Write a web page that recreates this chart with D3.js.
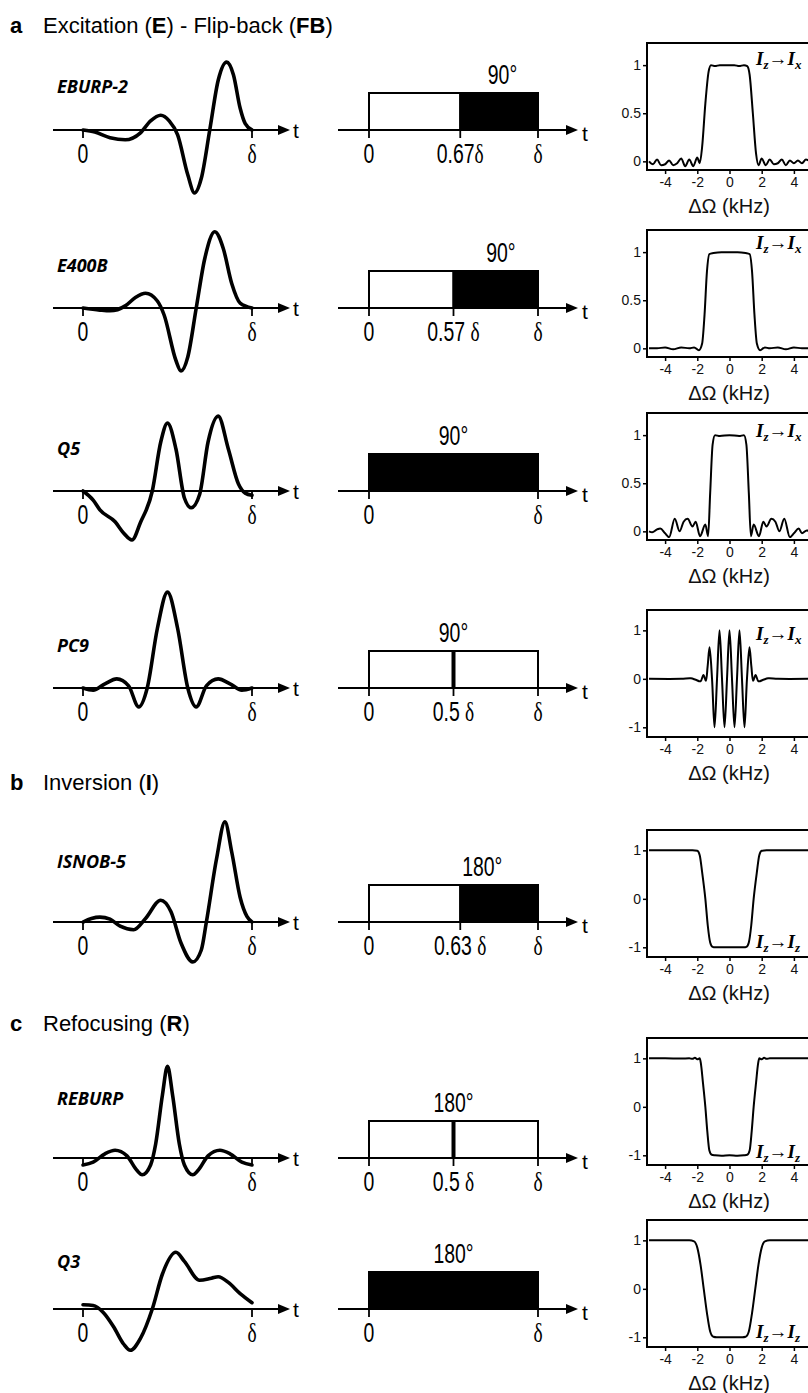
<!DOCTYPE html>
<html>
<head>
<meta charset="utf-8">
<title>Selective pulses</title>
<script src="https://d3js.org/d3.v7.min.js"></script>
<style>
    body { margin: 0; background: #fff; }
    svg { display: block; }
    .head { font-family: "Liberation Sans", Arial, sans-serif; font-size: 22px; }
    .pname { font-family: "Open Sans", sans-serif; font-style: italic; font-weight: 700; font-size: 18px; }
    .narrow { font-family: "Liberation Sans", Arial, sans-serif; font-size: 27px; }
    .delta { font-family: "Liberation Serif", "DejaVu Serif", serif; }
    .prof text { font-family: "Liberation Sans", Arial, sans-serif; font-size: 14px; fill: #111; }
    .prof text.note { font-family: "Liberation Serif", serif; font-style: italic; font-weight: bold; font-size: 19px; fill: #000; }
</style>
</head>
<body>
<script>
// ---- data ----
var names = ["EBURP-2", "E400B", "Q5", "PC9", "ISNOB-5", "REBURP", "Q3"];
var flipAngles = ["90°", "90°", "90°", "90°", "180°", "180°", "180°"];
var blockKind = ["split", "split", "full", "line", "split", "line", "full"];
var splitLabels = ["0.67δ", "0.57 δ", null, "0.5 δ", "0.63 δ", "0.5 δ", null];
var splitDrawn = [0.54, 0.5, null, 0.5, 0.54, 0.5, null];   // where the sketch puts the boundary
var transfer = [["z", "x"], ["z", "x"], ["z", "x"], ["z", "x"], ["z", "z"], ["z", "z"], ["z", "z"]];
var profTicks = [[0, 0.5, 1], [0, 0.5, 1], [0, 0.5, 1], [-1, 0, 1], [-1, 0, 1], [-1, 0, 1], [-1, 0, 1]];
var freqTicks = [-4, -2, 0, 2, 4];

var headLetters = ["a", "b", "c"];
var headParts = [
    [["Excitation (", 0], ["E", 1], [") - Flip-back (", 0], ["FB", 1], [")", 0]],
    [["Inversion (", 0], ["I", 1], [")", 0]],
    [["Refocusing (", 0], ["R", 1], [")", 0]]
];

// pulse shapes: [t/δ, amplitude]
var eburp2Shape = [[0,0],[.07,-.03],[.16,-.11],[.25,-.14],[.34,-.04],[.4,.13],[.46,.21],[.51,.13],[.56,-.07],[.62,-.64],[.66,-.9],[.7,-.69],[.75,0],[.8,.71],[.85,.97],[.89,.79],[.93,.31],[.96,.09],[1,0]];
var e400bShape = [[0,0],[.1,-.03],[.16,-.04],[.25,.03],[.31,.15],[.37,.21],[.44,.1],[.48,-.1],[.55,-.75],[.58,-.9],[.62,-.7],[.67,0],[.72,.7],[.78,1.09],[.83,.85],[.88,.35],[.93,.07],[1,0]];
var q5Shape = [[0,0],[.06,-.13],[.1,-.27],[.19,-.44],[.24,-.6],[.29,-.7],[.34,-.45],[.41,0],[.46,.7],[.5,.97],[.55,.6],[.6,-.1],[.64,-.24],[.69,-.05],[.74,.7],[.8,1.07],[.86,.6],[.92,.1],[.96,-.03],[1,-.06]];
var pc9Shape = [[0,0],[.06,-.03],[.13,.06],[.2,.13],[.27,.03],[.33,-.27],[.38,0],[.44,.85],[.5,1.37],[.56,.85],[.62,0],[.67,-.27],[.73,.03],[.8,.13],[.87,.06],[.94,-.03],[1,0]];
var isnob5Shape = [[0,0],[.05,.05],[.1,.07],[.16,.04],[.22,-.06],[.3,-.11],[.37,.05],[.46,.31],[.52,.15],[.58,-.3],[.65,-.57],[.7,-.4],[.73,0],[.79,.9],[.84,1.43],[.88,1.0],[.93,.35],[.97,.08],[1,0]];
var reburpShape = [[0,-.1],[.06,-.06],[.13,.06],[.19,.11],[.26,.03],[.32,-.18],[.35,-.24],[.4,-.1],[.43,.2],[.47,.9],[.5,1.31],[.53,.9],[.57,.2],[.6,-.1],[.65,-.24],[.68,-.18],[.74,.03],[.81,.11],[.87,.06],[.94,-.06],[1,-.1]];
var q3Shape = [[0,.06],[.06,.05],[.12,-.05],[.18,-.25],[.24,-.5],[.28,-.59],[.34,-.42],[.41,0],[.47,.5],[.55,.81],[.6,.68],[.69,.41],[.76,.44],[.8,.46],[.86,.38],[.93,.22],[1,.09]];

// excitation / inversion profiles: [ΔΩ kHz, value]
var eburp2Profile = [[-5,0],[-4.75,-.03],[-4.5,.02],[-4.25,-.04],[-4,-.03],[-3.75,.01],[-3.5,-.04],[-3.25,-.02],[-3,.03],[-2.75,-.05],[-2.5,.02],[-2.25,-.05],[-2,.04],[-1.85,-.02],[-1.7,.15],[-1.5,.6],[-1.3,.93],[-1.15,1],[-.9,.99],[-.6,1],[-.3,1],[0,1],[.3,1],[.6,.99],[.9,1],[1.1,.99],[1.25,.9],[1.45,.5],[1.65,.08],[1.8,-.04],[2,.03],[2.25,-.04],[2.5,.02],[2.75,-.03],[3,-.02],[3.25,.02],[3.5,-.04],[3.75,.01],[4,-.02],[4.25,.01],[4.5,-.02],[4.75,.02],[5,0]];
var e400bProfile = [[-5,0],[-4.5,0],[-4,.01],[-3.5,-.01],[-3,.01],[-2.5,0],[-2.2,.01],[-1.9,-.02],[-1.7,.05],[-1.55,.35],[-1.4,.8],[-1.25,.98],[-1,.99],[-.5,1],[0,1],[.5,1],[1,.99],[1.25,.98],[1.4,.8],[1.55,.35],[1.7,.05],[1.9,-.02],[2.2,.01],[2.5,0],[3,.01],[3.5,-.01],[4,.01],[4.5,0],[5,0]];
var q5Profile = [[-5,0],[-4.8,-.01],[-4.5,.02],[-4.3,.03],[-4,-.02],[-3.75,-.06],[-3.4,.13],[-3.1,0],[-2.85,.1],[-2.6,.13],[-2.3,.05],[-2.1,.1],[-1.83,-.05],[-1.5,.07],[-1.33,-.05],[-1.2,.4],[-1.05,.9],[-.9,1],[-.6,.99],[0,1],[.6,.99],[.9,1],[1.05,.9],[1.2,.4],[1.33,-.05],[1.5,.07],[1.83,-.05],[2.1,.1],[2.3,.05],[2.6,.13],[2.85,.1],[3.1,0],[3.4,.13],[3.75,-.06],[4,-.02],[4.3,.03],[4.5,-.02],[4.8,.01],[5,0]];
var pc9Profile = [[-5,0],[-3,0],[-2.4,.01],[-2.1,-.02],[-1.8,-.05],[-1.62,.08],[-1.47,-.04],[-1.36,.25],[-1.24,.65],[-1.085,0],[-.93,-1],[-.775,0],[-.62,1],[-.465,0],[-.31,-1],[-.155,0],[0,1],[.155,0],[.31,-1],[.465,0],[.62,1],[.775,0],[.93,-1],[1.085,0],[1.24,.65],[1.36,.25],[1.47,-.04],[1.62,.08],[1.8,-.05],[2.1,-.02],[2.4,.01],[3,0],[5,0]];
var isnob5Profile = [[-5,1],[-2.3,1],[-2,.99],[-1.85,.9],[-1.7,.55],[-1.5,0],[-1.35,-.55],[-1.2,-.9],[-1.05,-.99],[-.9,-1],[0,-1],[.9,-1],[1.05,-.99],[1.2,-.9],[1.35,-.55],[1.5,0],[1.7,.55],[1.85,.9],[2,.99],[2.3,1],[5,1]];
var reburpProfile = [[-5,1],[-4,1],[-3,.995],[-2.5,1],[-2.3,.99],[-2.15,1.01],[-2,.98],[-1.85,1],[-1.78,.9],[-1.65,.5],[-1.5,0],[-1.38,-.5],[-1.25,-.9],[-1.1,-.99],[-.9,-1],[-.5,-1.01],[0,-1],[.5,-1.01],[.9,-1],[1.1,-.99],[1.25,-.9],[1.38,-.5],[1.5,0],[1.65,.5],[1.78,.9],[1.85,1],[2,.98],[2.15,1.01],[2.3,.99],[2.5,1],[3,1],[4,1],[5,1]];
var q3Profile = [[-5,1],[-2.5,1],[-2.2,.98],[-2,.85],[-1.8,.5],[-1.6,0],[-1.4,-.5],[-1.2,-.88],[-1,-.99],[-.8,-1],[0,-1],[.8,-1],[1,-.99],[1.2,-.88],[1.4,-.5],[1.6,0],[1.8,.5],[2,.85],[2.2,.98],[2.5,1],[5,1]];

var shapes = [eburp2Shape, e400bShape, q5Shape, pc9Shape, isnob5Shape, reburpShape, q3Shape];
var profiles = [eburp2Profile, e400bProfile, q5Profile, pc9Profile, isnob5Profile, reburpProfile, q3Profile];

// ---- layout ----
var width = 808, height = 1393;
var rowAxisY = [130, 308, 491, 688, 922, 1158, 1309];
var nameY = [93, 272, 455, 652, 868, 1105, 1268];
var profTop = [43, 230, 413, 610, 830, 1038, 1220];
var headY = [33, 790, 1031];
var angleAt = [0.79, 0.78, 0.5, 0.5, 0.67, 0.5, 0.5];
var noteAt = [1.0, 1.03, 0.98, 0.8, -1.02, -1.06, -1.02];
var profH = 127;

var svg = d3.select("body").append("svg")
    .attr("width", width)
    .attr("height", height);

var tX = d3.scaleLinear().domain([0, 1]).range([83, 252]);
var bX = d3.scaleLinear().domain([0, 1]).range([369, 538]);
var fX = d3.scaleLinear().domain([-5, 5]).range([649, 810]);

// section headings
headLetters.forEach(function(l, k) {
    svg.append("text").attr("class", "head").attr("x", 10).attr("y", headY[k])
        .style("font-weight", "bold").text(l);
    var t = svg.append("text").attr("class", "head").attr("x", 43).attr("y", headY[k]);
    headParts[k].forEach(function(p) {
        t.append("tspan").style("font-weight", p[1] ? "bold" : "normal").text(p[0]);
    });
});

function arrowAxis(x0, x1, y) {
    svg.append("line").attr("x1", x0).attr("x2", x1 - 8).attr("y1", y).attr("y2", y)
        .attr("stroke", "#000").attr("stroke-width", 2);
    svg.append("path")
        .attr("d", "M" + x1 + "," + y + "L" + (x1 - 12) + "," + (y - 5) + "L" + (x1 - 12) + "," + (y + 5) + "Z")
        .attr("fill", "#000");
}

function tickMark(x, y) {
    svg.append("line").attr("x1", x).attr("x2", x).attr("y1", y - 1).attr("y2", y + 8)
        .attr("stroke", "#000").attr("stroke-width", 1.8);
}

// condensed look: squeeze a regular sans horizontally
function narrowText(x, y, str) {
    var t = svg.append("text").attr("class", "narrow")
        .attr("transform", "translate(" + x + "," + y + ") scale(0.72,1)")
        .attr("text-anchor", "middle");
    var parts = str.split("δ");
    if (parts[0] !== "") t.append("tspan").text(parts[0]);
    if (str.indexOf("δ") >= 0) t.append("tspan").attr("class", "delta").text("δ");
    return t;
}

var pulseLine = d3.line().curve(d3.curveMonotoneX);

names.forEach(function(name, i) {
    var ay = rowAxisY[i];

    // ---- pulse shape ----
    var aY = d3.scaleLinear().domain([-1, 1]).range([ay + 70, ay - 70]);
    svg.append("text").attr("class", "pname").attr("x", 57).attr("y", nameY[i]).text(name);
    arrowAxis(53, 290, ay);
    svg.append("text").attr("class", "head").attr("x", 293).attr("y", ay + 8).style("font-size", "21px").text("t");
    tickMark(tX(0), ay);
    tickMark(tX(1), ay);
    narrowText(tX(0), ay + 33, "0");
    narrowText(tX(1), ay + 33, "δ");
    svg.append("path")
        .attr("d", pulseLine.x(function(d) { return tX(d[0]); }).y(function(d) { return aY(d[1]); })(shapes[i]))
        .attr("fill", "none").attr("stroke", "#000").attr("stroke-width", 3.6)
        .attr("stroke-linejoin", "round").attr("stroke-linecap", "round");

    // ---- block diagram ----
    var bTop = ay - 37;
    var box = svg.append("g");
    if (blockKind[i] === "split") {
        box.append("rect").attr("x", bX(0)).attr("y", bTop).attr("width", bX(splitDrawn[i]) - bX(0)).attr("height", ay - bTop)
            .attr("fill", "#fff").attr("stroke", "#000").attr("stroke-width", 2);
        box.append("rect").attr("x", bX(splitDrawn[i])).attr("y", bTop).attr("width", bX(1) - bX(splitDrawn[i])).attr("height", ay - bTop)
            .attr("fill", "#000").attr("stroke", "#000").attr("stroke-width", 2);
    } else {
        box.append("rect").attr("x", bX(0)).attr("y", bTop).attr("width", bX(1) - bX(0)).attr("height", ay - bTop)
            .attr("fill", blockKind[i] === "full" ? "#000" : "#fff").attr("stroke", "#000").attr("stroke-width", 2);
        if (blockKind[i] === "line") {
            box.append("line").attr("x1", bX(splitDrawn[i])).attr("x2", bX(splitDrawn[i]))
                .attr("y1", bTop).attr("y2", ay).attr("stroke", "#000").attr("stroke-width", 4);
        }
    }
    arrowAxis(338, 578, ay);
    svg.append("text").attr("class", "head").attr("x", 582).attr("y", ay + 11).style("font-size", "21px").text("t");
    tickMark(bX(0), ay);
    tickMark(bX(1), ay);
    narrowText(bX(0), ay + 33, "0");
    narrowText(bX(1), ay + 33, "δ");
    if (splitLabels[i]) {
        tickMark(bX(splitDrawn[i]), ay);
        narrowText(bX(splitDrawn[i]), ay + 33, splitLabels[i]);
    }
    narrowText(bX(angleAt[i]), ay - 46, flipAngles[i]);

    // ---- frequency profile ----
    var top = profTop[i];
    var inv = profTicks[i][0] < 0;
    var pY = d3.scaleLinear().domain(inv ? [-1.2, 1.42] : [-0.09, 1.23]).range([top + profH, top]);
    var g = svg.append("g").attr("class", "prof");

    g.append("path")
        .attr("d", d3.line().curve(name === "PC9" ? d3.curveCatmullRom : d3.curveMonotoneX)
            .x(function(d) { return fX(d[0]); }).y(function(d) { return pY(d[1]); })(profiles[i]))
        .attr("fill", "none").attr("stroke", "#000").attr("stroke-width", 2);

    g.append("rect").attr("x", 647).attr("y", top).attr("width", 170).attr("height", profH)
        .attr("fill", "none").attr("stroke", "#000").attr("stroke-width", 2);

    var xa = g.append("g").attr("transform", "translate(0," + (top + profH) + ")")
        .call(d3.axisBottom(fX).tickValues(freqTicks).tickSize(4).tickSizeOuter(0)
            .tickFormat(function(d) { return String(d); }));
    xa.select(".domain").remove();
    var ya = g.append("g").attr("transform", "translate(647,0)")
        .call(d3.axisLeft(pY).tickValues(profTicks[i]).tickSize(4).tickSizeOuter(0).tickPadding(2)
            .tickFormat(function(d) { return String(d); }));
    ya.select(".domain").remove();
    g.selectAll(".tick line").attr("stroke", "#000").attr("stroke-width", 1.5);
    g.selectAll(".tick text").style("font-size", "14px").attr("fill", "#111");

    g.append("text").attr("x", 729).attr("y", top + profH + 43).attr("text-anchor", "middle")
        .style("font-size", "20px").text("ΔΩ (kHz)");

    var note = g.append("text").attr("class", "note").attr("x", 756).attr("y", pY(noteAt[i]));
    note.append("tspan").text("I");
    note.append("tspan").attr("dy", 4).style("font-size", "13px").text(transfer[i][0]);
    note.append("tspan").attr("dy", -4).style("font-style", "normal").style("font-weight", "normal").text("→");
    note.append("tspan").text("I");
    note.append("tspan").attr("dy", 4).style("font-size", "13px").text(transfer[i][1]);
});
</script>
</body>
</html>
